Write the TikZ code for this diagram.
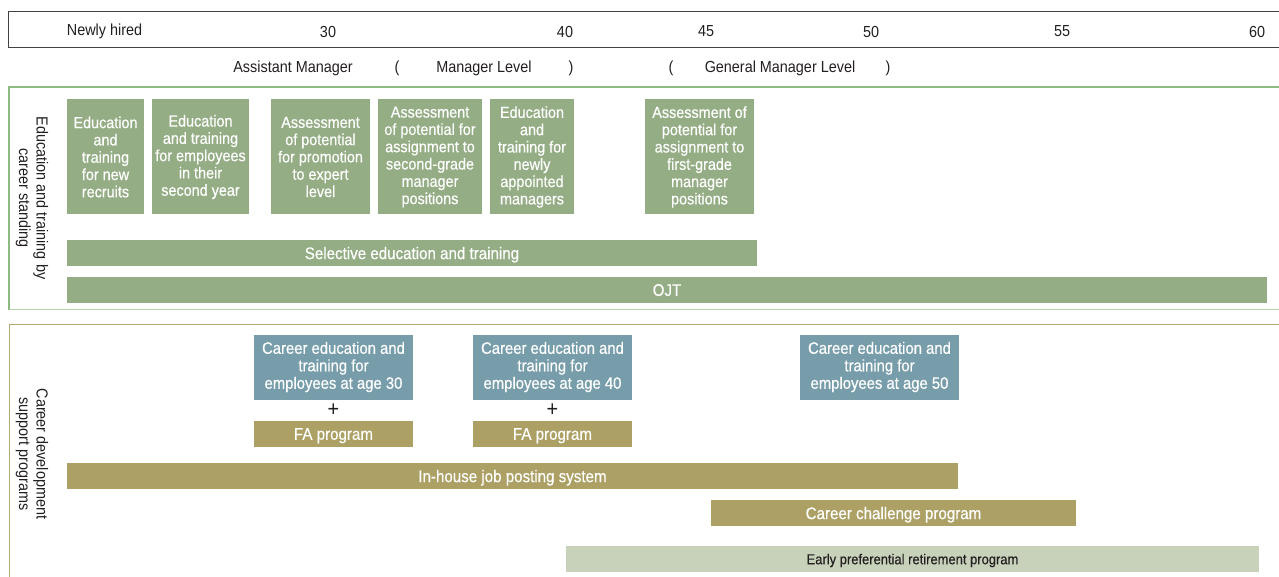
\documentclass[tikz,border=0pt]{standalone}
\usepackage{fontspec}
\setmainfont[FakeStretch=0.9]{Liberation Sans}
\newfontfamily\boxfont[FakeStretch=0.9, FakeBold=0.4]{Liberation Sans}

\definecolor{edugreen}{HTML}{95AD85}
\definecolor{careerblue}{HTML}{789DAA}
\definecolor{progolive}{HTML}{ACA064}
\definecolor{retirelight}{HTML}{C8D1BA}
\definecolor{framegreen}{HTML}{8DBA80}
\definecolor{framelight}{HTML}{B7D3AC}
\definecolor{frameolive}{HTML}{B5A877}
\definecolor{inkdark}{HTML}{231F20}

\tikzset{
  lbl/.style={text=inkdark, font=\fontsize{16}{17.3}\selectfont, inner sep=0pt},
  edubox/.style={fill=edugreen, text=white, align=center, inner sep=0pt,
    font=\boxfont\fontsize{16}{17.3}\selectfont},
  careerbox/.style={edubox, fill=careerblue, font=\boxfont\fontsize{16.5}{17.5}\selectfont},
  onebar/.style={edubox, minimum height=26pt, text depth=0pt,
    font=\boxfont\fontsize{16.8}{17.5}\selectfont},
  olivebar/.style={onebar, fill=progolive},
  retirebar/.style={onebar, fill=retirelight, text=inkdark,
    font=\boxfont\fontsize{14.4}{15}\selectfont},
}

\begin{document}
\begin{tikzpicture}[x=1pt, y=-1pt]
  \useasboundingbox (0,0) rectangle (1279,577);

  % Age scale
  \draw[inkdark!85, line width=1pt] (1279,12) -- (8,12) -- (8,48) -- (1279,48);
  \node[lbl] (hired) at (104.5,31.5) {Newly hired};
  \foreach \a/\x in {30/328, 40/565, 45/706, 50/871, 55/1062, 60/1257}
    \node[lbl] (age\a) at (\x,31.5) {\a};

  % Job levels
  \node[lbl] (asst) at (293,68.5) {Assistant Manager};
  \node[lbl] (mgrL) at (397,68.5) {(};
  \node[lbl] (mgr) at (484,68.5) {Manager Level};
  \node[lbl] (mgrR) at (571,68.5) {)};
  \node[lbl] (genL) at (671,68.5) {(};
  \node[lbl] (gen) at (780,68.5) {General Manager Level};
  \node[lbl] (genR) at (888,68.5) {)};

  % Education and training by career standing
  \draw[framegreen, line width=1.2pt] (1279,87) -- (9,87) -- (9,309.5);
  \draw[framelight, line width=1.2pt] (9,309.5) -- (1279,309.5);
  \node[lbl, align=center, rotate=-90] (eduside) at (32,198)
    {Education and training by\\career standing};

  \node[edubox, minimum width=77pt, minimum height=115pt] (recruit) at (105.5,157)
    {Education\\and\\training\\for new\\recruits};
  \node[edubox, minimum width=97pt, minimum height=115pt] (second) at (200.5,157)
    {Education\\and training\\for employees\\in their\\second year};
  \node[edubox, minimum width=99pt, minimum height=115pt] (expert) at (320.5,157)
    {Assessment\\of potential\\for promotion\\to expert\\level};
  \node[edubox, minimum width=104pt, minimum height=115pt] (grade2) at (430,157)
    {Assessment\\of potential for\\assignment to\\second-grade\\manager\\positions};
  \node[edubox, minimum width=84pt, minimum height=115pt] (newmgr) at (532,157)
    {Education\\and\\training for\\newly\\appointed\\managers};
  \node[edubox, minimum width=109pt, minimum height=115pt] (grade1) at (699.5,157)
    {Assessment of\\potential for\\assignment to\\first-grade\\manager\\positions};

  \node[onebar, minimum width=690pt] (select) at (412,253)
    {Selective education and training};
  \node[onebar, minimum width=1200pt] (ojt) at (667,290) {OJT};

  % Career development support programs
  \draw[frameolive, line width=1.2pt] (1279,324.5) -- (9.5,324.5) -- (9.5,577);
  \node[lbl, align=center, rotate=-90] (careerside) at (32,454)
    {Career development\\support programs};

  \node[careerbox, minimum width=159pt, minimum height=65pt] (age30) at (333.5,367)
    {Career education and\\training for\\employees at age 30};
  \node[careerbox, minimum width=159pt, minimum height=65pt] (age40) at (552.5,367)
    {Career education and\\training for\\employees at age 40};
  \node[careerbox, minimum width=159pt, minimum height=65pt] (age50) at (879.5,367)
    {Career education and\\training for\\employees at age 50};

  \node[lbl, font=\fontsize{22}{22}\selectfont] (plus30) at (333.5,410) {+};
  \node[lbl, font=\fontsize{22}{22}\selectfont] (plus40) at (552.5,410) {+};
  \node[olivebar, minimum width=159pt] (fa30) at (333.5,434) {FA program};
  \node[olivebar, minimum width=159pt] (fa40) at (552.5,434) {FA program};

  \node[olivebar, minimum width=891pt] (posting) at (512.5,476)
    {In-house job posting system};
  \node[olivebar, minimum width=365pt] (challenge) at (893.5,513)
    {Career challenge program};
  \node[retirebar, minimum width=693pt] (retire) at (912.5,559)
    {Early preferential retirement program};
\end{tikzpicture}
\end{document}
